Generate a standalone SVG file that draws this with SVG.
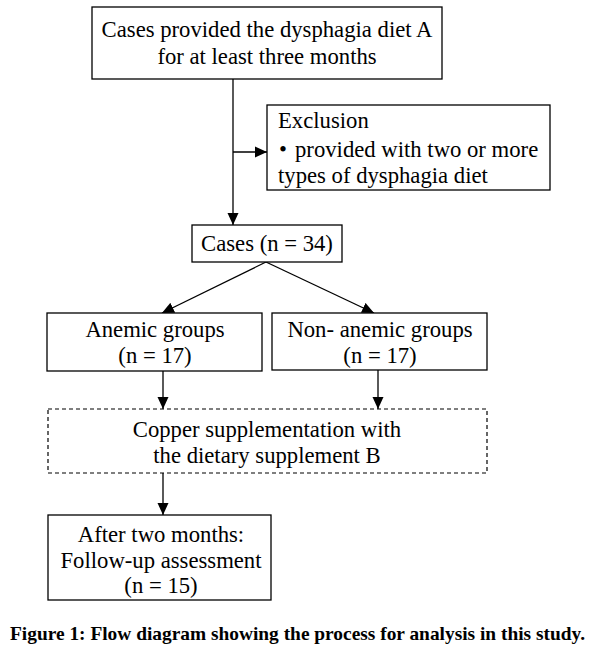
<svg xmlns="http://www.w3.org/2000/svg" width="597" height="656" viewBox="0 0 597 656">
<style>
.box{fill:#fff;stroke:#000;stroke-width:1.3}
.dash{fill:#fff;stroke:#000;stroke-width:1.2;stroke-dasharray:4 3}
.t{font-family:"Liberation Serif","Times New Roman",serif;font-size:22.7px;fill:#000}
.c{text-anchor:middle}
.ln{stroke:#000;stroke-width:1.3;fill:none}
.cap{font-family:"Liberation Serif","Times New Roman",serif;font-size:19px;font-weight:bold;fill:#000}
</style>
<defs>
<marker id="ah" markerWidth="12" markerHeight="12" viewBox="0 0 12 12" refX="12" refY="6" orient="auto" markerUnits="userSpaceOnUse">
<path d="M0,0.5 L12,6 L0,11.5 Z" fill="#000"/>
</marker>
</defs>
<rect width="597" height="656" fill="#fff"/>
<g id="connectors">
<line class="ln" x1="233" y1="78" x2="233" y2="225" marker-end="url(#ah)"/>
<line class="ln" x1="233" y1="152" x2="267" y2="152" marker-end="url(#ah)"/>
<line class="ln" x1="266" y1="262" x2="162" y2="313" marker-end="url(#ah)"/>
<line class="ln" x1="266" y1="262" x2="374" y2="313" marker-end="url(#ah)"/>
<line class="ln" x1="163" y1="371" x2="163" y2="409" marker-end="url(#ah)"/>
<line class="ln" x1="378" y1="370" x2="378" y2="409" marker-end="url(#ah)"/>
<line class="ln" x1="163" y1="473" x2="163" y2="515" marker-end="url(#ah)"/>
</g>
<g id="n1">
<rect class="box" x="92" y="7" width="350" height="72"/>
<text class="t c" x="267" y="37">Cases provided the dysphagia diet A</text>
<text class="t c" x="267" y="64">for at least three months</text>
</g>
<g id="n2">
<rect class="box" x="267" y="105" width="283" height="85"/>
<text class="t" x="278" y="128">Exclusion</text>
<text class="t" x="279" y="157">•</text>
<text class="t" x="295" y="157">provided with two or more</text>
<text class="t" x="278" y="183">types of dysphagia diet</text>
</g>
<g id="n3">
<rect class="box" x="192" y="225" width="150" height="37"/>
<text class="t c" x="267" y="251">Cases (n = 34)</text>
</g>
<g id="n4">
<rect class="box" x="47" y="313" width="215" height="58"/>
<text class="t c" x="155" y="337">Anemic groups</text>
<text class="t c" x="155" y="363">(n = 17)</text>
</g>
<g id="n5">
<rect class="box" x="272" y="313" width="215" height="57"/>
<text class="t c" x="380" y="337">Non- anemic groups</text>
<text class="t c" x="380" y="363">(n = 17)</text>
</g>
<g id="n6">
<rect class="dash" x="48" y="409" width="439" height="64"/>
<text class="t c" x="267" y="437">Copper supplementation with</text>
<text class="t c" x="267" y="463">the dietary supplement B</text>
</g>
<g id="n7">
<rect class="box" x="48" y="515" width="223" height="85"/>
<text class="t c" x="161" y="542">After two months:</text>
<text class="t c" x="161" y="568">Follow-up assessment</text>
<text class="t c" x="161" y="593">(n = 15)</text>
</g>
<text class="cap" x="10" y="640" textLength="575" lengthAdjust="spacingAndGlyphs">Figure 1: Flow diagram showing the process for analysis in this study.</text>
</svg>
